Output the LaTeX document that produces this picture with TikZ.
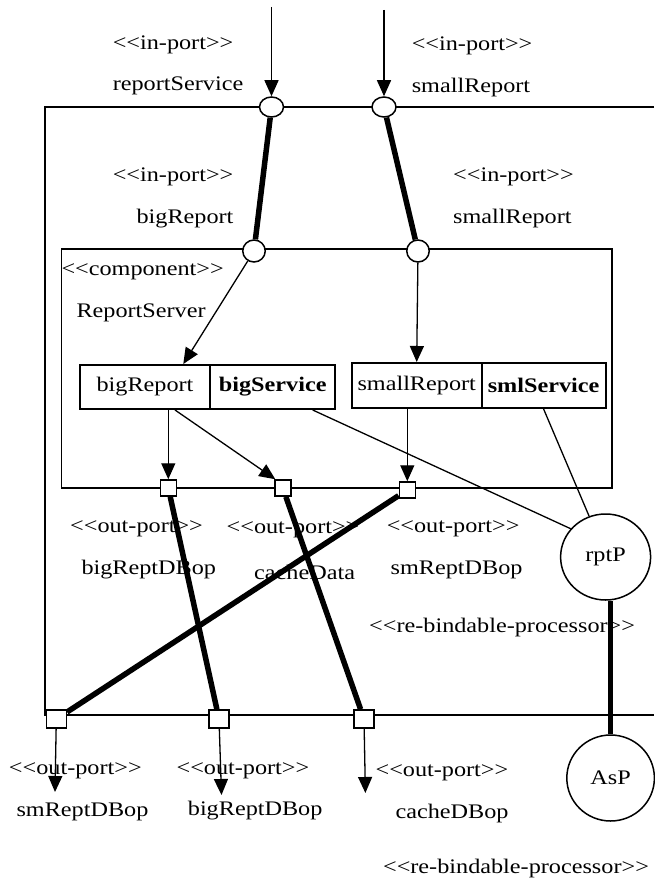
\documentclass[tikz,border=0pt]{standalone}
\usepackage{fontspec}
\setmainfont{Liberation Serif}[FakeStretch=1.17]
\usetikzlibrary{arrows.meta,shapes.geometric}
% stereotype brackets, kept apart so they are not merged into guillemets
\newcommand\stype[1]{<\kern0pt<#1>\kern0pt>}
\tikzset{
  every node/.style={font=\fontsize{20.7}{24}\selectfont},
  lbl/.style={inner sep=0pt, anchor=west},
  arr/.style={line width=1.3pt, -{Triangle[length=16pt,width=14pt]}},
  thin/.style={line width=1.3pt},
  heavy/.style={line width=5.5pt},
  inport/.style={ellipse, draw, fill=white, line width=1.5pt, inner sep=0pt,
                 minimum width=24pt, minimum height=20pt},
  outport/.style={rectangle, draw, fill=white, line width=1.5pt, inner sep=0pt,
                  minimum width=16pt, minimum height=16pt},
  boutport/.style={outport, minimum width=20pt, minimum height=18pt},
  part/.style={rectangle, draw, line width=2pt, inner sep=0pt,
               minimum height=44pt},
  proc/.style={ellipse, draw, fill=white, line width=1.5pt, inner sep=0pt,
               minimum width=90pt, minimum height=86pt},
}
\begin{document}
\begin{tikzpicture}[x=1pt,y=-1pt]
\useasboundingbox (0,0) rectangle (654,882);

% enclosing system box (its right side lies beyond the page)
\draw[line width=1.3pt] (654,107) -- (45,107) -- (45,715) -- (654,715);

% ReportServer component
\node[draw, line width=1.5pt, inner sep=0pt, minimum width=550.5pt,
      minimum height=239pt] (rs) at (336.5,368.5) {};

% parts
\node[part, minimum width=130pt] (bigRep) at (145,387) {bigReport};
\node[part, minimum width=125pt] (bigSvc) at (272.7,387) {\textbf{bigService}};
\node[part, minimum width=130pt, minimum height=45pt] (smlRep) at (416.7,385.5) {smallReport};
\node[part, minimum width=124pt, minimum height=45pt] (smlSvc) at (543.6,385.5) {\textbf{smlService}};

% in-ports
\node[inport] (pT1) at (271.5,107) {};
\node[inport] (pT2) at (384,107) {};
\node[inport, minimum width=22.5pt, minimum height=22pt] (pI1) at (254,251) {};
\node[inport, minimum width=22.5pt, minimum height=22pt] (pI2) at (418,251) {};

% out-ports on the component
\node[outport] (o1) at (168.3,488) {};
\node[outport] (o2) at (282.8,488) {};
\node[outport] (o3) at (407.3,490) {};

% out-ports on the system box
\node[boutport] (bA) at (56.3,719) {};
\node[boutport] (bB) at (219,719) {};
\node[boutport] (bC) at (364,719) {};

% processors
\node[proc] (rptP) at (605.6,557) {rptP};
\node[proc, minimum width=87.6pt] (AsP) at (610.6,778) {AsP};

% free ends of the external connectors
\coordinate (s1) at (271.5,7);
\coordinate (s2) at (384,10);
\coordinate (eA) at (55,792);
\coordinate (eB) at (221.5,795);
\coordinate (eC) at (365.4,793);

% incoming arrows
\draw[arr] (s1) -- (pT1);
\draw[arr] (s2) -- (pT2);

% delegation links
\draw[heavy] (pT1) -- (pI1);
\draw[heavy] (pT2) -- (pI2);
\draw[heavy] (o1) -- (bB);
\draw[heavy] (o2) -- (bC);
\draw[heavy] (o3) -- (bA);
\draw[heavy] (AsP.north) -- (AsP.north |- rptP.south);

% internal arrows
\draw[arr] (pI1) -- (bigRep.31);
\draw[arr] (pI2) -- (smlRep.north);
\draw[arr] (o1.north |- bigRep.south) -- (o1.north);
\draw[arr] ([xshift=30pt]bigRep.south) -- ([xshift=-7.5pt]o2.north);
\draw[arr] (o3.north |- smlRep.south) -- (o3.north);

% bindings to rptP
\draw[thin] ([xshift=40pt]bigSvc.south) -- (rptP.141);
\draw[thin] (smlSvc.south) -- (rptP.112);

% outgoing arrows
\draw[arr] (bA) -- (eA);
\draw[arr] (bB) -- (eB);
\draw[arr] (bC) -- (eC);

% labels
\node[lbl] (l1a) at (112.6,45) {\stype{in-port}};
\node[lbl] (l1b) at (112.6,86) {reportService};
\node[lbl] (l2a) at (411.6,46) {\stype{in-port}};
\node[lbl] (l2b) at (411.6,88) {smallReport};
\node[lbl] (l3a) at (112.6,177) {\stype{in-port}};
\node[lbl] (l3b) at (136.4,219) {bigReport};
\node[lbl] (l4a) at (453,177) {\stype{in-port}};
\node[lbl] (l4b) at (453,219) {smallReport};
\node[lbl] (l5a) at (61.3,272) {\stype{component}};
\node[lbl] (l5b) at (76.3,313) {ReportServer};
\node[lbl] (l6a) at (70,529) {\stype{out-port}};
\node[lbl] (l6b) at (81.3,570) {bigReptDBop};
\node[lbl] (l7a) at (226.5,530) {\stype{out-port}};
\node[lbl] (l7b) at (254,572) {cacheData};
\node[lbl] (l8a) at (386.6,529) {\stype{out-port}};
\node[lbl] (l8b) at (390.4,570) {smReptDBop};
\node[lbl] (l9) at (369,628) {\stype{re-bindable-processor}};
\node[lbl] (l10a) at (8.8,771) {\stype{out-port}};
\node[lbl] (l10b) at (16.3,812) {smReptDBop};
\node[lbl] (l11a) at (176.4,771) {\stype{out-port}};
\node[lbl] (l11b) at (187.7,811) {bigReptDBop};
\node[lbl] (l12a) at (375.4,773) {\stype{out-port}};
\node[lbl] (l12b) at (395.4,814) {cacheDBop};
\node[lbl] (l13) at (382.9,869) {\stype{re-bindable-processor}};
\end{tikzpicture}
\end{document}
